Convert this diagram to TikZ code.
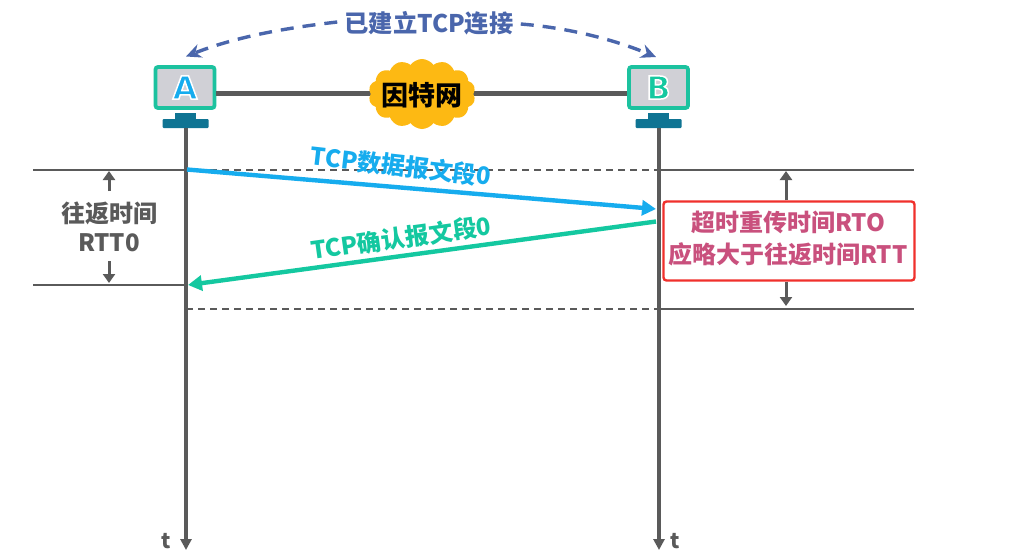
\documentclass[tikz,border=0pt]{standalone}
\usepackage{fontspec}
\setmainfont{Noto Sans CJK SC}
\newfontfamily\hostfont{DejaVu Sans}
\usetikzlibrary{arrows.meta,shapes.symbols,calc}
\definecolor{dk}{HTML}{5A5A5A}
\definecolor{blu}{HTML}{16ACEE}
\definecolor{grn}{HTML}{14C8A0}
\definecolor{mon}{HTML}{1CC29F}
\definecolor{scr}{HTML}{D0D0D6}
\definecolor{teal}{HTML}{0F7493}
\definecolor{cblue}{HTML}{4A66AC}
\definecolor{rose}{HTML}{C9507D}
\definecolor{redb}{HTML}{F0302C}
\definecolor{cloudc}{HTML}{FDB913}
\newcommand{\px}[1]{\fontsize{#1}{#1}\selectfont}
\newcommand{\halo}[1]{\special{pdf:code q 2 Tr 1.5 w 1 1 1 RG}#1\special{pdf:code Q}}
\tikzset{
  screen/.style={draw=mon,fill=scr,line width=3.8pt,rounded corners=2.5pt,minimum width=59pt,minimum height=41pt,inner sep=0pt,font=\hostfont\px{32}\bfseries},
  neck/.style={fill=teal,minimum width=21pt,minimum height=7pt,inner sep=0pt},
  foot/.style={fill=teal,rounded corners=1pt,minimum width=46pt,minimum height=9pt,inner sep=0pt},
  life/.style={draw=dk,line width=3.4pt,-{Triangle[length=11pt,width=11pt]}},
  rule/.style={draw=dk,line width=2pt},
  dashrule/.style={draw=dk,line width=2pt,dash pattern=on 7pt off 5pt},
  msgb/.style={draw=blu,line width=4.4pt,-{Triangle[length=14pt,width=15pt]}},
  msgg/.style={draw=grn,line width=4.4pt,-{Triangle[length=14pt,width=15pt]}},
  dim/.style={draw=dk,line width=3pt,-{Triangle[length=9pt,width=12pt]}},
  curve/.style={draw=cblue,line width=3.4pt,dash pattern=on 13pt off 9pt,-{Stealth[length=15pt,width=14pt]}},
  gtext/.style={text=dk,font=\px{24}\bfseries,inner sep=0pt},
}
\begin{document}
\begin{tikzpicture}[x=1pt,y=-1pt]
\useasboundingbox (0,0) rectangle (1034,554);
\fill[white] (0,0) rectangle (1034,554);
% coordinates
\coordinate (Lb1) at (33,169.5);
\coordinate (Lb2) at (33,284.5);
\coordinate (Ax1) at (186,169.5);
\coordinate (Ax2) at (186,284.5);
\coordinate (Ax3) at (186,308.5);
\coordinate (Bx1) at (659,169.5);
\coordinate (Bx3) at (659,308.5);
\coordinate (Re1) at (914,169.5);
\coordinate (Re3) at (914,308.5);
\coordinate (tA) at (186,550);
\coordinate (tB) at (659,550);
\coordinate (lineY) at (0,93.5);
% rules
\draw[rule] (Lb1) -- (Ax1);
\draw[rule] (Lb2) -- (Ax2);
\draw[dashrule] (Ax1) -- (Bx1);
\draw[dashrule] (Ax3) -- (Bx3);
\draw[rule] (Bx1) -- (Re1);
\draw[rule] (Bx3) -- (Re3);
% hosts
\node[screen] (A) at (185,87.5) {\textcolor{blu}{\halo{A}}};
\node[screen] (B) at (658.5,87.5) {\textcolor{grn}{\halo{B}}};
\node[neck] (An) at (185.5,116) {};
\node[foot] (Af) at (185.5,123.5) {};
\node[neck] (Bn) at (658.5,116) {};
\node[foot] (Bf) at (658.5,123.5) {};
% network
\draw[draw=dk,line width=5pt] (A.east |- lineY) -- (B.west |- lineY);
\node[cloud,cloud puffs=14,cloud puff arc=110,aspect=1.6,fill=cloudc,minimum width=107pt,minimum height=70pt,inner sep=0pt] (net) at (422,94) {};
\node[font=\px{27}\bfseries,text=black,inner sep=0pt] (netlabel) at (422,95) {因特网};
% lifelines
\draw[life] (Af.south -| tA) -- (tA);
\draw[life] (Bf.south -| tB) -- (tB);
\node[font=\px{21}\bfseries,text=dk,inner sep=0pt] (ta) at (166,541) {t};
\node[font=\px{21}\bfseries,text=dk,inner sep=0pt] (tb) at (675,541) {t};
% top label and curves
\node[font=\px{24.3}\bfseries,text=cblue,inner sep=0pt] (top) at (429,23) {已建立TCP连接};
\coordinate (topA) at (186,56.5);
\coordinate (topB) at (656,57);
\draw[curve] ($(top.west)+(-7,-1)$) .. controls (285,28) and (235,37) .. (topA);
\draw[curve] ($(top.east)+(7,1)$) .. controls (570,28) and (615,40) .. (topB);
% messages
\coordinate (m1s) at (187,169.5);
\coordinate (m1e) at (656,209);
\coordinate (m2s) at (656,221.5);
\coordinate (m2e) at (188,285);
\draw[msgb] (m1s) -- (m1e);
\draw[msgg] (m2s) -- (m2e);
\node[font=\px{24}\bfseries,text=blu,inner sep=0pt,rotate=-6.5] (l1) at (401,166) {TCP数据报文段0};
\node[font=\px{24}\bfseries,text=grn,inner sep=0pt,rotate=8] (l2) at (401,238) {TCP确认报文段0};
% RTT
\node[gtext] (rtt1) at (109,213) {往返时间};
\node[gtext] (rtt2) at (109,243) {RTT0};
\coordinate (u1) at (109,171);
\coordinate (d1) at (109,283);
\draw[dim] (rtt1.north |- 0,191) -- (u1);
\draw[dim] (rtt2.south |- 0,261) -- (d1);
% RTO
\coordinate (r1) at (786,171);
\coordinate (r2) at (786,306);
\node[draw=redb,fill=white,line width=2.4pt,rounded corners=3pt,minimum width=251pt,minimum height=79pt,inner sep=0pt] (rto) at (789,241) {};
\node[text=rose,font=\px{24}\bfseries,inner sep=0pt] (rto1) at (788,222) {超时重传时间RTO};
\node[text=rose,font=\px{24}\bfseries,inner sep=0pt] (rto2) at (788,254) {应略大于往返时间RTT};
\draw[dim] (rto.north -| r1) -- (r1);
\draw[dim] (rto.south -| r2) -- (r2);
\end{tikzpicture}
\end{document}
